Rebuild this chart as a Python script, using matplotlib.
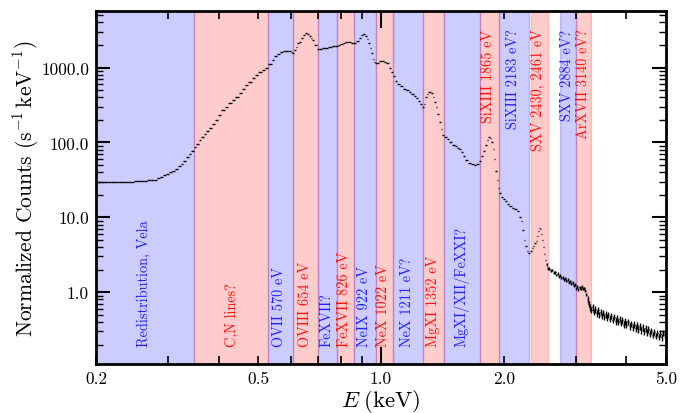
import numpy as np
import matplotlib
matplotlib.use("Agg")
import matplotlib.pyplot as plt
from matplotlib.ticker import FixedLocator, FixedFormatter, LogLocator, NullFormatter

# ---------------- data ----------------
energy_kev = [
    0.200, 0.205, 0.210, 0.215, 0.220, 0.225, 0.230, 0.235, 0.240, 0.245,
    0.250, 0.255, 0.260, 0.265, 0.270, 0.275, 0.280, 0.285, 0.290, 0.295,
    0.300, 0.305, 0.310, 0.315, 0.320, 0.325, 0.330, 0.335, 0.340, 0.345,
    0.350, 0.355, 0.360, 0.365, 0.370, 0.375, 0.381, 0.388, 0.395, 0.402,
    0.410, 0.418, 0.426, 0.435, 0.444, 0.452, 0.460, 0.469, 0.477, 0.486,
    0.496, 0.505, 0.515, 0.525, 0.534, 0.544, 0.552, 0.561, 0.571, 0.579,
    0.587, 0.596, 0.604, 0.609, 0.615, 0.621, 0.627, 0.633, 0.640, 0.648,
    0.656, 0.663, 0.670, 0.676, 0.681, 0.690, 0.701, 0.712, 0.724, 0.736,
    0.750, 0.764, 0.779, 0.790, 0.801, 0.812, 0.824, 0.836, 0.850, 0.864,
    0.876, 0.888, 0.899, 0.909, 0.918, 0.927, 0.935, 0.942, 0.950, 0.958,
    0.966, 0.972, 0.985, 0.998, 1.012, 1.025, 1.035, 1.052, 1.065, 1.075,
    1.090, 1.105, 1.120, 1.140, 1.160, 1.178, 1.195, 1.210, 1.223, 1.237,
    1.252, 1.266, 1.278, 1.290, 1.302, 1.313, 1.325, 1.335, 1.346, 1.358,
    1.370, 1.382, 1.395, 1.408, 1.422, 1.440, 1.460, 1.480, 1.505, 1.530,
    1.550, 1.563, 1.580, 1.600, 1.623, 1.650, 1.675, 1.701, 1.725, 1.750,
    1.770, 1.790, 1.808, 1.825, 1.844, 1.858, 1.872, 1.886, 1.900, 1.915,
    1.929, 1.945, 1.960, 1.980, 2.000, 2.020, 2.050, 2.080, 2.110, 2.140,
    2.170, 2.190, 2.210, 2.230, 2.250, 2.270, 2.290, 2.310, 2.330, 2.350,
    2.370, 2.388, 2.400, 2.415, 2.430, 2.445, 2.460, 2.475, 2.490, 2.505,
    2.520, 2.535, 2.550, 2.570, 2.590, 2.610, 2.630, 2.650, 2.670, 2.690,
    2.710, 2.730, 2.750, 2.770, 2.790, 2.810, 2.830, 2.850, 2.870, 2.890,
    2.910, 2.930, 2.950, 2.970, 2.990, 3.010, 3.030, 3.050, 3.070, 3.090,
    3.110, 3.130, 3.150, 3.170, 3.190, 3.210, 3.230, 3.255, 3.280, 3.305,
    3.330, 3.355, 3.380, 3.405, 3.430, 3.455, 3.480, 3.505, 3.530, 3.555,
    3.580, 3.610, 3.640, 3.670, 3.700, 3.730, 3.760, 3.790, 3.820, 3.850,
    3.880, 3.910, 3.940, 3.970, 4.000, 4.035, 4.070, 4.105, 4.140, 4.175,
    4.210, 4.245, 4.280, 4.315, 4.350, 4.385, 4.420, 4.455, 4.490, 4.525,
    4.560, 4.600, 4.640, 4.680, 4.720, 4.760, 4.800, 4.840, 4.880, 4.920,
    4.960,
]

counts = [
    30.0, 29.8, 29.6, 29.4, 29.2, 29.2, 29.3, 29.4, 29.6, 29.8,
    30.1, 30.4, 30.6, 30.9, 31.1, 31.5, 31.9, 33.0, 34.5, 36.3,
    38.0, 39.8, 41.6, 44.5, 48.0, 52.0, 57.0, 63.0, 70.0, 78.0,
    86.0, 96.0, 108.0, 118.0, 130.0, 142.0, 157.0, 178.0, 202.0, 232.0,
    273.0, 300.0, 335.0, 372.0, 407.0, 460.0, 515.0, 580.0, 645.0, 720.0,
    800.0, 870.0, 930.0, 982.0, 1100.0, 1268.0, 1420.0, 1540.0, 1634.0, 1680.0,
    1685.0, 1640.0, 1595.0, 1585.0, 1700.0, 1900.0, 2100.0, 2221.0, 2480.0, 2720.0,
    2870.0, 2820.0, 2640.0, 2460.0, 2340.0, 2020.0, 1760.0, 1790.0, 1820.0, 1848.0,
    1880.0, 1915.0, 1947.0, 2010.0, 2090.0, 2160.0, 2221.0, 2200.0, 2140.0, 2115.0,
    2280.0, 2500.0, 2700.0, 2788.0, 2650.0, 2420.0, 2150.0, 1850.0, 1550.0, 1320.0,
    1180.0, 1145.0, 1160.0, 1210.0, 1240.0, 1200.0, 1150.0, 1000.0, 880.0, 760.0,
    660.0, 600.0, 560.0, 520.0, 495.0, 479.0, 450.0, 420.0, 391.0, 360.0,
    330.0, 302.0, 330.0, 400.0, 450.0, 470.0, 468.0, 455.0, 410.0, 350.0,
    302.0, 240.0, 190.0, 150.0, 127.0, 118.0, 110.0, 102.0, 93.2, 88.5,
    85.0, 81.7, 74.0, 66.0, 58.8, 53.5, 51.0, 50.4, 51.5, 55.8,
    65.0, 78.0, 93.0, 108.0, 118.0, 114.0, 100.0, 82.0, 60.0, 42.0,
    31.8, 25.0, 21.1, 18.5, 17.3, 16.3, 15.2, 14.2, 13.3, 12.8,
    12.0, 10.2, 8.85, 6.8, 5.04, 4.2, 3.52, 3.35, 3.6, 3.95,
    4.2, 4.6, 4.8, 5.6, 6.6, 7.22, 6.9, 5.9, 5.0, 4.0,
    3.2, 2.7, 2.35, 2.1, 2.06, 1.93, 1.98, 1.82, 1.84, 1.70,
    1.76, 1.64, 1.67, 1.55, 1.58, 1.49, 1.53, 1.43, 1.46, 1.36,
    1.39, 1.30, 1.33, 1.24, 1.26, 1.13, 1.18, 1.09, 1.16, 1.11,
    1.18, 1.12, 1.13, 1.04, 0.92, 0.80, 0.70, 0.63, 0.58, 0.63,
    0.55, 0.59, 0.52, 0.57, 0.50, 0.55, 0.48, 0.53, 0.47, 0.51,
    0.46, 0.50, 0.44, 0.48, 0.43, 0.47, 0.41, 0.45, 0.40, 0.44,
    0.39, 0.42, 0.37, 0.41, 0.37, 0.40, 0.35, 0.38, 0.34, 0.37,
    0.33, 0.36, 0.32, 0.35, 0.31, 0.34, 0.30, 0.33, 0.29, 0.32,
    0.28, 0.305, 0.27, 0.295, 0.26, 0.285, 0.255, 0.28, 0.25, 0.285,
    0.27,
]

# relative 1-sigma error level per energy range
err_range_edges = [0.2, 2.55, 3.2, 5.1]
err_range_rel = [0.0, 0.045, 0.10]

band_lo = [0.200, 0.348, 0.529, 0.609, 0.700, 0.781, 0.860, 0.971,
           1.072, 1.270, 1.430, 1.750, 1.951, 2.330, 2.748, 3.008]
band_hi = [0.348, 0.529, 0.609, 0.700, 0.781, 0.860, 0.971, 1.072,
           1.270, 1.430, 1.750, 1.951, 2.310, 2.564, 3.008, 3.270]
band_kind = ["b", "r", "b", "r", "b", "r", "b", "r",
             "b", "r", "b", "r", "b", "r", "b", "r"]

line_labels = ["Redistribution, Vela", "C,N lines?", "OVII 570 eV", "OVIII 654 eV",
               "FeXVII?", "FeXVII 826 eV", "NeIX 922 eV", "NeX 1022 eV",
               "NeX 1211 eV?", "MgXI 1352 eV", "MgXI/XII/FeXXI?", "SiXIII 1865 eV",
               "SiXIII 2183 eV?", "SXV 2430, 2461 eV", "SXV 2884 eV?", "ArXVII 3140 eV?"]
label_energy = [0.262, 0.430, 0.563, 0.651, 0.736, 0.811, 0.909, 1.013,
                1.157, 1.339, 1.578, 1.833, 2.104, 2.432, 2.854, 3.136]
label_at_top = [False] * 11 + [True] * 5

xtick_major = [1.0]
xtick_major_labels = ["1.0"]
xtick_minor = [0.2, 0.3, 0.4, 0.5, 0.6, 0.7, 0.8, 0.9, 2.0, 3.0, 4.0, 5.0]
xtick_minor_labels = ["0.2", "", "", "0.5", "", "", "", "", "2.0", "", "", "5.0"]
ytick_vals = [1.0, 10.0, 100.0, 1000.0]
ytick_labels = ["1.0", "10.0", "100.0", "1000.0"]

# ---------------- style ----------------
plt.rcParams["font.family"] = ["cmr10", "DejaVu Serif"]
plt.rcParams["mathtext.fontset"] = "cm"
plt.rcParams["axes.formatter.use_mathtext"] = True

fig = plt.figure(figsize=(6.87, 4.14), dpi=100)
ax = fig.add_axes([0.1397, 0.1184, 0.8297, 0.8527])

fill = {"b": "blue", "r": "red"}
txtc = {"b": "#2020ff", "r": "#ff1010"}
for lo, hi, k in zip(band_lo, band_hi, band_kind):
    ax.axvspan(lo, hi, color=fill[k], alpha=0.2, lw=1.0, zorder=0)

E = np.array(energy_kev)
C = np.array(counts)
mid = np.sqrt(E[:-1] * E[1:])
left = np.concatenate([[E[0]], mid])
right = np.concatenate([mid, [E[-1] * np.sqrt(E[-1] / E[-2])]])
rel = np.array(err_range_rel)[np.clip(np.searchsorted(err_range_edges, E, side="right") - 1,
                                      0, len(err_range_rel) - 1)]
ax.errorbar(E, C, xerr=[E - left, right - E], yerr=C * rel, fmt="none",
            ecolor="black", elinewidth=1.0, capsize=0, zorder=3)

trans = ax.get_xaxis_transform()
for lab, xe, top, k in zip(line_labels, label_energy, label_at_top, band_kind):
    if top:
        ax.text(xe, 0.950, lab, rotation=90, ha="center", va="top",
                color=txtc[k], fontsize=10.3, transform=trans, zorder=4)
    else:
        ax.text(xe, 0.050, lab, rotation=90, ha="center", va="bottom",
                color=txtc[k], fontsize=10.3, transform=trans, zorder=4)

ax.set_xscale("log")
ax.set_yscale("log")
ax.set_xlim(0.2, 5.0)
ax.set_ylim(0.11, 5700)

ax.xaxis.set_major_locator(FixedLocator(xtick_major))
ax.xaxis.set_major_formatter(FixedFormatter(xtick_major_labels))
ax.xaxis.set_minor_locator(FixedLocator(xtick_minor))
ax.xaxis.set_minor_formatter(FixedFormatter(xtick_minor_labels))
ax.yaxis.set_major_locator(FixedLocator(ytick_vals))
ax.yaxis.set_major_formatter(FixedFormatter(ytick_labels))
ax.yaxis.set_minor_locator(LogLocator(base=10, subs=np.arange(2, 10)))
ax.yaxis.set_minor_formatter(NullFormatter())

ax.tick_params(axis="both", which="both", direction="in", top=True, right=True,
               labelsize=12.5, colors="black")
ax.tick_params(axis="x", which="major", length=12, width=1.5, pad=5)
ax.tick_params(axis="x", which="minor", length=6, width=1.2, pad=5)
ax.tick_params(axis="y", which="major", length=10, width=1.5, pad=5)
ax.tick_params(axis="y", which="minor", length=5, width=1.0)

for sp in ax.spines.values():
    sp.set_linewidth(2.0)
    sp.set_zorder(5)

ax.set_xlabel(r"$E\;(\mathrm{keV})$", fontsize=16.5, labelpad=0.5)
ax.set_ylabel(r"Normalized Counts (s$^{-1}\,$keV$^{-1}$)", fontsize=15.5, labelpad=0)

fig.savefig("out.png", dpi=100)
